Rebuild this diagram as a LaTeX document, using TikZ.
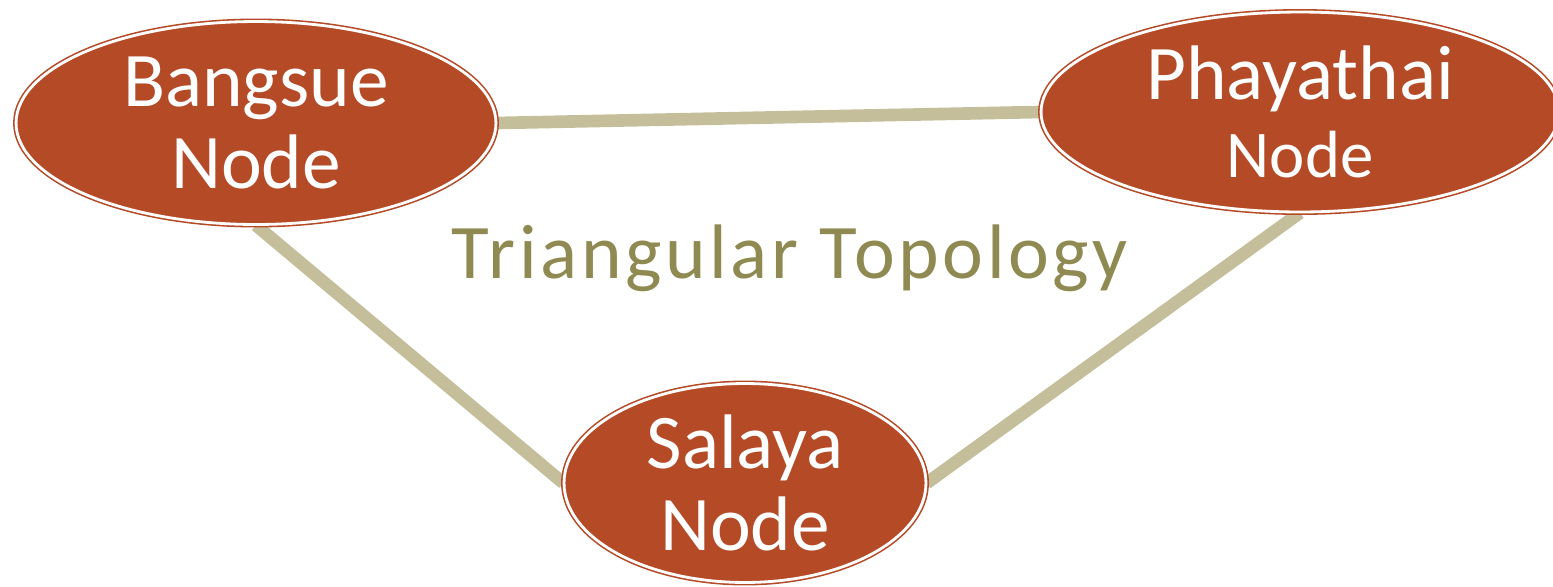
\documentclass[tikz,border=0pt]{standalone}
\usepackage{fontspec}
\setmainfont{Carlito}
\newfontfamily\titlefont[LetterSpace=4.7]{Carlito}
\usetikzlibrary{shapes.geometric,backgrounds}
\definecolor{rust}{RGB}{181,74,39}
\definecolor{tan}{RGB}{196,190,154}
\definecolor{olive}{RGB}{143,137,82}
\tikzset{
  station/.style={ellipse, draw=rust, fill=rust, line width=0.9pt, double=white, double distance=1.6pt,
    inner sep=0pt, text=white, align=center},
  link/.style={draw=tan, line width=7.2pt},
  bigfont/.style={font=\fontsize{44}{47}\selectfont},
}
\begin{document}
\begin{tikzpicture}[x=0.02cm, y=-0.02cm]
\clip (0,0) rectangle (1553,586);
\node[station, bigfont, minimum width=9.6cm, minimum height=4.06cm] (bang) at (256,123) {Bangsue\\Node};
\node[station, font=\fontsize{44}{42.5}\selectfont, minimum width=10.36cm, minimum height=4.0cm] (phay) at (1300,112)
  {Phayathai\\[1.8pt]{\fontsize{38}{42.5}\selectfont Node}};
\node[station, bigfont, minimum width=7.24cm, minimum height=3.98cm] (sal) at (745,483) {Salaya\\Node};
\node[text=olive, font=\titlefont\fontsize{44}{47}\selectfont, anchor=base] (title) at (790,278) {Triangular Topology};
\begin{scope}[on background layer]
\draw[link] (bang.east) -- (phay.west);
\draw[link] (bang.south) -- (sal.west);
\draw[link] (phay.south) -- (sal.east);
\end{scope}
\end{tikzpicture}
\end{document}
